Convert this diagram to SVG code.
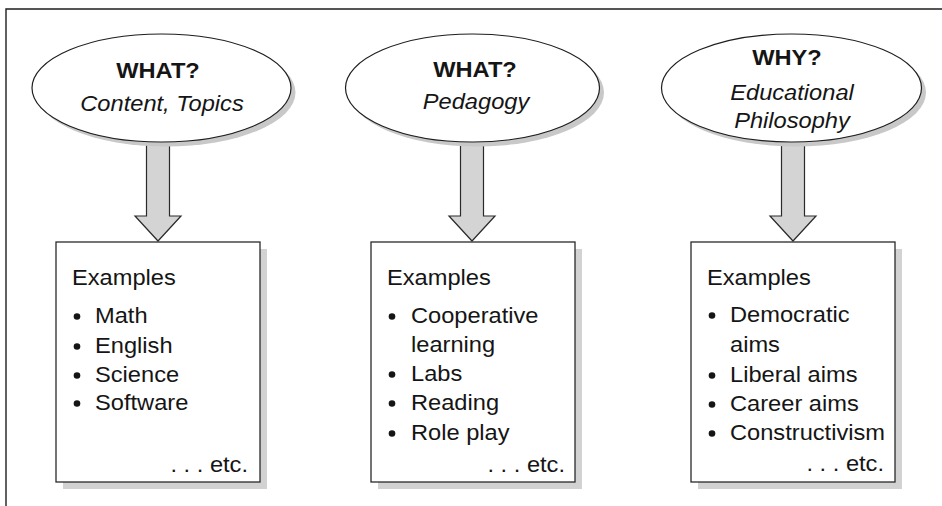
<svg xmlns="http://www.w3.org/2000/svg" width="942" height="506" viewBox="0 0 942 506">
  <style>
    .frame { fill: none; stroke: #1e1e1e; stroke-width: 1.4; }
    .oval { fill: #ffffff; stroke: #1e1e1e; stroke-width: 1.2; }
    .oval-shadow { fill: #c8c8c8; }
    .box { fill: #ffffff; stroke: #2a2a2a; stroke-width: 1.3; }
    .box-shadow { fill: #d2d2d2; }
    .arrow { fill: #d4d4d4; stroke: #2a2a2a; stroke-width: 1.2; stroke-linejoin: miter; }
    text { font-family: "Liberation Sans", Arial, sans-serif; font-size: 21.5px; fill: #151515; }
    .title { font-weight: bold; text-anchor: middle; }
    .sub { font-style: italic; text-anchor: middle; }
    .etc { text-anchor: end; }
    .dot { fill: #151515; }
  </style>

  <!-- page frame: top and left rules only -->
  <path class="frame" d="M6,506 V9 H942"/>

  <!-- connectors: block arrows from each question to its examples -->
  <g id="connectors">
    <polygon class="arrow" points="146.5,128 169.5,128 169.5,216 181,216 158,241 135,216 146.5,216"/>
    <polygon class="arrow" points="460.5,128 483.5,128 483.5,216 495,216 472,241 449,216 460.5,216"/>
    <polygon class="arrow" points="781.5,128 804.5,128 804.5,216 816,216 793,241 770,216 781.5,216"/>
  </g>

  <!-- question ovals -->
  <g id="q-content">
    <ellipse class="oval-shadow" cx="166" cy="92.5" rx="129.5" ry="54"/>
    <ellipse class="oval" cx="161.5" cy="88" rx="129.5" ry="54"/>
    <text class="title" transform="translate(158,78) scale(1.1,1)">WHAT?</text>
    <text class="sub" transform="translate(162,111) scale(1.1,1)">Content, Topics</text>
  </g>

  <g id="q-pedagogy">
    <ellipse class="oval-shadow" cx="477" cy="92.5" rx="127" ry="54"/>
    <ellipse class="oval" cx="472.5" cy="88" rx="127" ry="54"/>
    <text class="title" transform="translate(475,77) scale(1.1,1)">WHAT?</text>
    <text class="sub" transform="translate(476,109) scale(1.1,1)">Pedagogy</text>
  </g>

  <g id="q-philosophy">
    <ellipse class="oval-shadow" cx="796" cy="92.5" rx="130" ry="54"/>
    <ellipse class="oval" cx="791.5" cy="88" rx="130" ry="54"/>
    <text class="title" transform="translate(787,65) scale(1.1,1)">WHY?</text>
    <text class="sub" transform="translate(792,100) scale(1.1,1)">Educational</text>
    <text class="sub" transform="translate(792,128) scale(1.1,1)">Philosophy</text>
  </g>

  <!-- example boxes -->
  <g id="ex-content">
    <rect class="box-shadow" x="63" y="249" width="204" height="240"/>
    <rect class="box" x="56" y="242" width="204" height="240"/>
    <text transform="translate(72,285) scale(1.1,1)">Examples</text>
    <circle class="dot" cx="77" cy="316.5" r="3.3"/>
    <text transform="translate(95,323) scale(1.1,1)">Math</text>
    <circle class="dot" cx="77" cy="346.5" r="3.3"/>
    <text transform="translate(95,353) scale(1.1,1)">English</text>
    <circle class="dot" cx="77" cy="375.5" r="3.3"/>
    <text transform="translate(95,382) scale(1.1,1)">Science</text>
    <circle class="dot" cx="77" cy="403.5" r="3.3"/>
    <text transform="translate(95,410) scale(1.1,1)">Software</text>
    <text class="etc" transform="translate(248,472) scale(1.1,1)">. . . etc.</text>
  </g>

  <g id="ex-pedagogy">
    <rect class="box-shadow" x="378" y="249" width="204" height="240"/>
    <rect class="box" x="371" y="242" width="204" height="240"/>
    <text transform="translate(387,285) scale(1.1,1)">Examples</text>
    <circle class="dot" cx="392" cy="316.5" r="3.3"/>
    <text transform="translate(411,323) scale(1.1,1)">Cooperative</text>
    <text transform="translate(411,352) scale(1.1,1)">learning</text>
    <circle class="dot" cx="392" cy="374.5" r="3.3"/>
    <text transform="translate(411,381) scale(1.1,1)">Labs</text>
    <circle class="dot" cx="392" cy="403.5" r="3.3"/>
    <text transform="translate(411,410) scale(1.1,1)">Reading</text>
    <circle class="dot" cx="392" cy="433.5" r="3.3"/>
    <text transform="translate(411,440) scale(1.1,1)">Role play</text>
    <text class="etc" transform="translate(565,472) scale(1.1,1)">. . . etc.</text>
  </g>

  <g id="ex-philosophy">
    <rect class="box-shadow" x="698" y="249" width="204" height="240"/>
    <rect class="box" x="691" y="242" width="204" height="240"/>
    <text transform="translate(707,285) scale(1.1,1)">Examples</text>
    <circle class="dot" cx="712" cy="315.5" r="3.3"/>
    <text transform="translate(730,322) scale(1.1,1)">Democratic</text>
    <text transform="translate(730,352) scale(1.1,1)">aims</text>
    <circle class="dot" cx="712" cy="375.5" r="3.3"/>
    <text transform="translate(730,382) scale(1.1,1)">Liberal aims</text>
    <circle class="dot" cx="712" cy="404.5" r="3.3"/>
    <text transform="translate(730,411) scale(1.1,1)">Career aims</text>
    <circle class="dot" cx="712" cy="433.5" r="3.3"/>
    <text transform="translate(730,440) scale(1.1,1)">Constructivism</text>
    <text class="etc" transform="translate(884,471) scale(1.1,1)">. . . etc.</text>
  </g>
</svg>
